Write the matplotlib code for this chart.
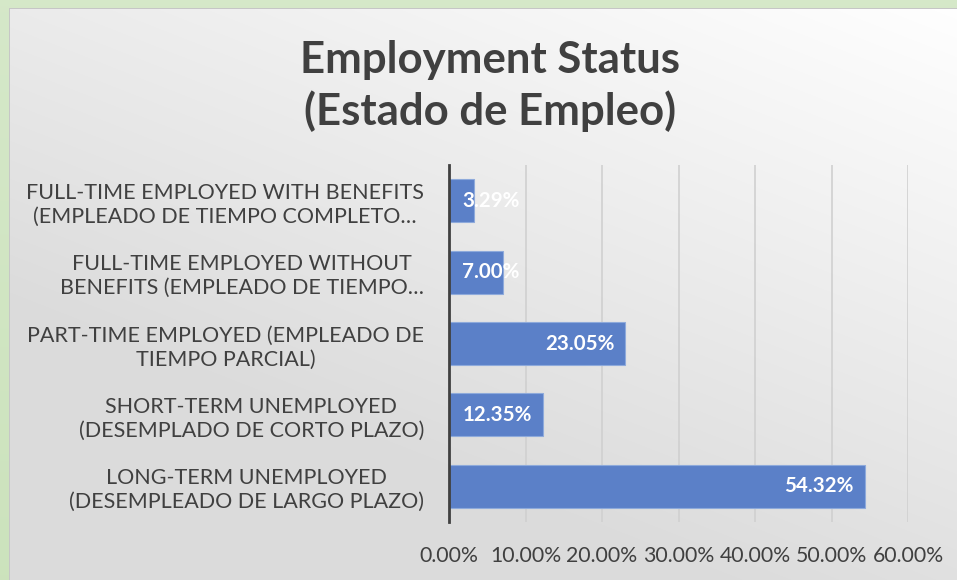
import numpy as np
import matplotlib
matplotlib.use("Agg")
import matplotlib.pyplot as plt
from matplotlib.ticker import PercentFormatter
from matplotlib import transforms

# data
categories = [
    "FULL-TIME EMPLOYED WITH BENEFITS\n(EMPLEADO DE TIEMPO COMPLETO…",
    "FULL-TIME EMPLOYED WITHOUT\nBENEFITS (EMPLEADO DE TIEMPO…",
    "PART-TIME EMPLOYED (EMPLEADO DE\nTIEMPO PARCIAL)",
    "SHORT-TERM UNEMPLOYED\n(DESEMPLADO DE CORTO PLAZO)",
    "LONG-TERM UNEMPLOYED\n(DESEMPLEADO DE LARGO PLAZO)",
]
values = [0.0329, 0.0700, 0.2305, 0.1235, 0.5432]
xticks = [0.0, 0.1, 0.2, 0.3, 0.4, 0.5, 0.6]
title = "Employment Status\n(Estado de Empleo)"

W, H = 957, 580
txt = "#404040"
bar_col = "#5b80c8"
font = ["Lato", "DejaVu Sans"]
plt.rcParams["font.family"] = font

fig = plt.figure(figsize=(W / 100, H / 100), dpi=100)

# background: green frame + gray-to-white gradient chart area
yy, xx = np.mgrid[0:H, 0:W]
u = xx / W
v = yy / H
g = 255 - 36 * np.clip(0.55 * (1 - u) + 0.85 * v, 0, 1)
img = np.stack([g, g, g], axis=-1) / 255.0
green = np.array([0.80, 0.89, 0.74]) * (1 - 0.4 * (1 - v[..., None])) + np.array([0.89, 0.94, 0.86]) * 0.4 * (1 - v[..., None])
mask = (xx < 9) | (yy < 8)
img[mask] = green[mask]
edge = ((xx == 9) & (yy >= 8)) | ((yy == 8) & (xx >= 9))
img[edge] = [0.78, 0.78, 0.78]
bg = fig.add_axes([0, 0, 1, 1], zorder=-1)
bg.imshow(img, aspect="auto", interpolation="nearest")
bg.axis("off")

ax = fig.add_axes([449 / W, (H - 522) / H, (908 - 449) / W, (522 - 165) / H])
ax.set_facecolor("none")

y = np.arange(len(categories))
ax.barh(y, values, height=0.6, color=bar_col, edgecolor="#8eaadb", linewidth=0.8, zorder=3)
ax.set_ylim(len(categories) - 0.5, -0.5)
ax.set_xlim(0, 0.6)
ax.set_xticks(xticks)
ax.xaxis.set_major_formatter(PercentFormatter(1.0, decimals=2))
ax.set_yticks(y)
ax.set_yticklabels(categories, multialignment="center", linespacing=1.25)
ax.tick_params(axis="x", length=0, pad=17, labelsize=15.3, labelcolor=txt)
ax.tick_params(axis="y", length=0, pad=18, labelsize=15.5, labelcolor=txt)
ax.grid(axis="x", color="#d0d0d0", linewidth=1.2, zorder=0)
for s in ["top", "right", "bottom"]:
    ax.spines[s].set_visible(False)
ax.spines["left"].set_color("#404040")
ax.spines["left"].set_linewidth(2)
ax.spines["left"].set_zorder(4)

for yi, val in zip(y, values):
    lab = f"{val * 100:.2f}%"
    if val < 0.10:
        off = transforms.offset_copy(ax.transData, fig=fig, x=13, y=0, units="dots")
        ax.text(0, yi, lab, transform=off, ha="left", va="center",
                color="white", fontsize=14.8, fontweight="bold", zorder=5)
    else:
        off = transforms.offset_copy(ax.transData, fig=fig, x=-11, y=0, units="dots")
        ax.text(val, yi, lab, transform=off, ha="right", va="center",
                color="white", fontsize=14.8, fontweight="bold", zorder=5)

fig.text(490 / W, 1 - 86 / H, title, ha="center", va="center", fontsize=31.5,
         fontweight="bold", color=txt, linespacing=1.3)

fig.savefig("out.png", dpi=100)
